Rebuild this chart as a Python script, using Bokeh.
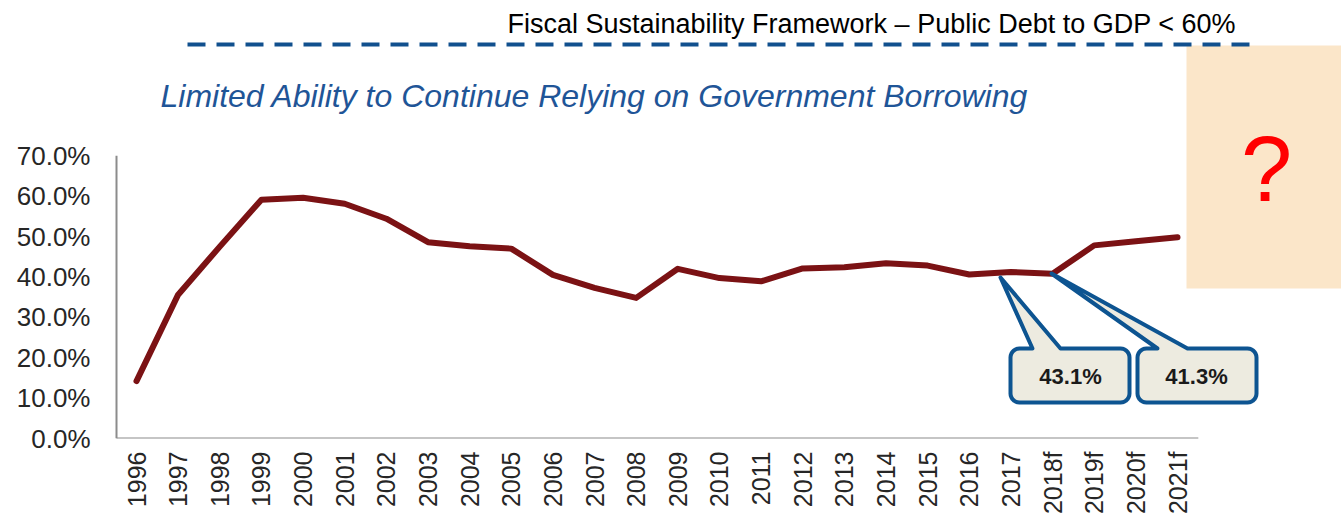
import numpy as np
from bokeh.plotting import figure
from bokeh.models import Range1d, FixedTicker, PrintfTickFormatter
from bokeh.core.properties import value
from bokeh.embed import file_html
from bokeh.resources import INLINE

# ---------------- data ----------------
years = ["1996", "1997", "1998", "1999", "2000", "2001", "2002", "2003", "2004",
         "2005", "2006", "2007", "2008", "2009", "2010", "2011", "2012", "2013",
         "2014", "2015", "2016", "2017", "2018f", "2019f", "2020f", "2021f"]
debt_pct = [14.2, 35.6, 47.5, 59.1, 59.6, 58.1, 54.4, 48.6, 47.6, 47.0, 40.5,
            37.3, 34.8, 42.0, 39.7, 38.9, 42.1, 42.4, 43.4, 42.8, 40.6, 41.2,
            40.8, 47.8, 48.8, 49.8]
y_ticks = [0, 10, 20, 30, 40, 50, 60, 70]
callout_labels = ["43.1%", "41.3%"]
title_text = "Fiscal Sustainability Framework \u2013 Public Debt to GDP < 60%"
subtitle_text = "Limited Ability to Continue Relying on Government Borrowing"
question_text = "?"

# ---------------- layout helpers ----------------
W, H = 1341, 523
LEFT, BOTTOM = 112, 85
X0_PX = 136.0      # pixel of first category
STEP_PX = 41.64    # pixels per category
AXIS_Y_PX = H - BOTTOM
PX_PER_PCT = 4.04


def X(px):
    return (px - X0_PX) / STEP_PX


def Y(py):
    return (AXIS_Y_PX - py) / PX_PER_PCT


FONT = value("Liberation Sans")

p = figure(width=W, height=H,
           x_range=Range1d(X(LEFT), X(W)), y_range=Range1d(Y(AXIS_Y_PX), Y(0)),
           output_backend="svg", toolbar_location=None,
           min_border_left=LEFT, min_border_right=0, min_border_top=0,
           min_border_bottom=BOTTOM)
p.outline_line_color = None
p.grid.visible = False
p.background_fill_color = "white"
p.border_fill_color = "white"

n = len(years)

# x axis
p.xaxis.ticker = FixedTicker(ticks=list(range(n)))
p.xaxis.major_label_overrides = {i: y for i, y in enumerate(years)}
p.xaxis.major_label_orientation = np.pi / 2
p.xaxis.axis_line_color = None
p.xaxis.major_tick_line_color = None
p.xaxis.minor_tick_line_color = None
p.xaxis.major_tick_out = 0
p.xaxis.major_tick_in = 0
p.xaxis.major_label_standoff = 13
p.xaxis.major_label_text_font = "Liberation Sans"
p.xaxis.major_label_text_font_size = "25px"
p.xaxis.major_label_text_color = "#262626"

# y axis
p.yaxis.ticker = FixedTicker(ticks=y_ticks)
p.yaxis.formatter = PrintfTickFormatter(format="%.1f%%")
p.yaxis.axis_line_color = None
p.yaxis.major_tick_line_color = None
p.yaxis.minor_tick_line_color = None
p.yaxis.major_tick_out = 0
p.yaxis.major_tick_in = 0
p.yaxis.major_label_standoff = 22
p.yaxis.major_label_text_font = "Liberation Sans"
p.yaxis.major_label_text_font_size = "26px"
p.yaxis.major_label_text_color = "#262626"

# axis lines (drawn to span only the data extent)
ax_left = X(116)
p.segment(x0=[ax_left, ax_left], y0=[0, 0], x1=[n - 0.5, ax_left], y1=[0, max(y_ticks)],
          line_color="#8C8C8C", line_width=2)

# question box
p.quad(left=[X(1186)], right=[X(W) + 1], top=[Y(45)], bottom=[Y(288)],
       fill_color="#FBE6C9", line_color=None)
p.text(x=[X(1266)], y=[Y(168)], text=[question_text], text_font=FONT,
       text_font_size="92px", text_color="#FF0000", text_align="center",
       text_baseline="middle")

# dashed framework line
p.line(x=[X(187), X(1257)], y=[Y(44), Y(44)], line_color="#11508E",
       line_width=4, line_dash="18 11")

# titles
p.text(x=[X(507)], y=[Y(23)], text=[title_text], text_font=FONT,
       text_font_size="27px", text_color="#000000", text_align="left",
       text_baseline="middle")
p.text(x=[X(160)], y=[Y(95)], text=[subtitle_text], text_font=FONT,
       text_font_size="32px", text_font_style="italic", text_color="#1F5597",
       text_align="left", text_baseline="middle")

# data line
p.line(x=list(range(n)), y=debt_pct, line_color="#7B1214", line_width=6,
       line_join="round", line_cap="round")


# callouts
def callout(x0, y0, x1, y1, r, base_l, base_r, tip):
    pts = [(base_l, y0), tip, (base_r, y0)]
    for cx, cy, a0 in [(x1 - r, y0 + r, -np.pi / 2), (x1 - r, y1 - r, 0),
                       (x0 + r, y1 - r, np.pi / 2), (x0 + r, y0 + r, np.pi)]:
        for a in np.linspace(a0, a0 + np.pi / 2, 8):
            pts.append((cx + r * np.cos(a), cy + r * np.sin(a)))
    pts.append((base_l, y0))
    return [X(q[0]) for q in pts], [Y(q[1]) for q in pts]


xs1, ys1 = callout(1010, 348, 1129, 402, 9, 1032, 1060, (1000, 277))
xs2, ys2 = callout(1137, 348, 1256, 402, 9, 1157, 1187, (1051, 273))
p.patches(xs=[xs1, xs2], ys=[ys1, ys2], fill_color="#EDEBE0",
          line_color="#0D5491", line_width=4, line_join="round")
p.text(x=[X(1070), X(1196)], y=[Y(376), Y(376)], text=callout_labels,
       text_font=FONT, text_font_size="22px", text_font_style="bold",
       text_color="#1A1A1A", text_align="center", text_baseline="middle")

open("out.html", "w").write(file_html(p, INLINE))
